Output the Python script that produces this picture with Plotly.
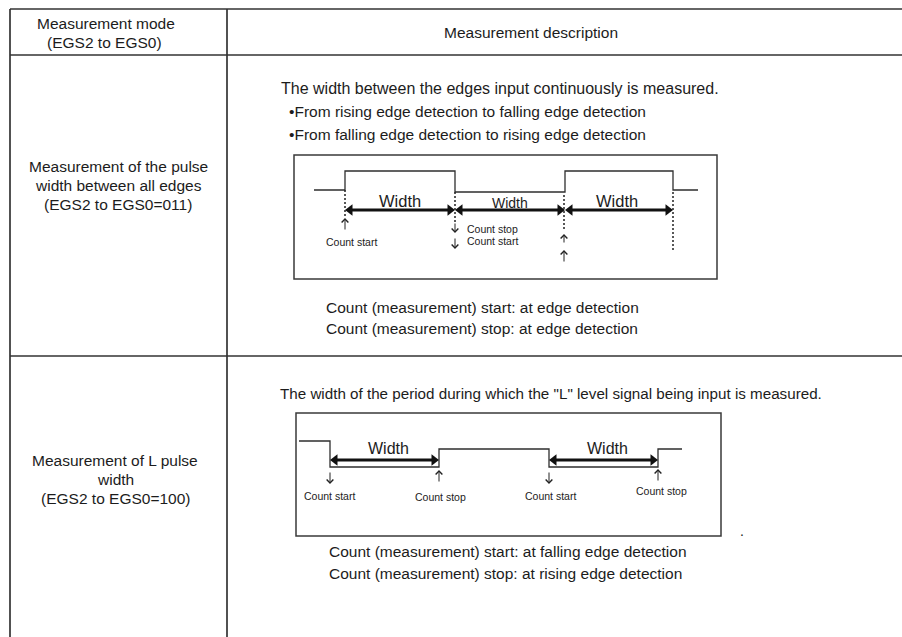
import plotly.graph_objects as go

W, H = 902, 637
FONT = "Liberation Sans, Arial, Helvetica, sans-serif"
INK = "#1c1c1c"
RULE = "#333333"

# ---------------- table structure ----------------
table_cols = [10, 227]          # vertical rules
table_rows = [9, 55, 356]       # horizontal rules
header_left = ["Measurement mode", "(EGS2 to EGS0)"]
header_right = ["Measurement description"]

mode1_lines = ["Measurement of the pulse", "width between all edges", "(EGS2 to EGS0=011)"]
mode2_lines = ["Measurement of L pulse", "width", "(EGS2 to EGS0=100)"]

desc1_lines = ["The width between the edges input continuously is measured.",
               "\u2022From rising edge detection to falling edge detection",
               "\u2022From falling edge detection to rising edge detection"]
desc1_notes = ["Count (measurement) start: at edge detection",
               "Count (measurement) stop: at edge detection"]
desc2_lines = ['The width of the period during which the "L" level signal being input is measured.']
desc2_notes = ["Count (measurement) start: at falling edge detection",
               "Count (measurement) stop: at rising edge detection"]

# ---------------- diagram 1 : all edges ----------------
box1 = [294, 155, 717, 279]
wave1_x = [314, 345, 345, 455, 455, 565, 565, 673, 673, 698]
wave1_y = [190, 190, 171, 171, 192, 192, 171, 171, 190, 190]
edges1_x = [345, 455, 564, 673]
edges1_top = [190, 192, 195, 192]
edges1_bot = [216, 222, 231, 250]
width1_start = [345, 455, 565]
width1_end = [455, 565, 673]
width1_y = 210
width1_label_x = [400, 510, 617]
width1_label_y = [201, 203, 201]
width1_label_size = [16.5, 14, 16.5]
# small count arrows: x, head y, tail y
marks1_x = [345, 455, 455, 564, 564]
marks1_head = [218, 233, 249, 234, 250]
marks1_tail = [231, 222, 237, 244, 263]
counts1 = ["Count start", "Count stop", "Count start"]
counts1_x = [351, 465, 465]
counts1_y = [242, 229, 241]
counts1_anchor = ["center", "left", "left"]

# ---------------- diagram 2 : L pulse ----------------
box2 = [296, 413, 721, 536]
wave2_x = [299, 330, 330, 439, 439, 549, 549, 658, 658, 682]
wave2_y = [441, 441, 467, 467, 449, 449, 467, 467, 449, 449]
width2_start = [330, 549]
width2_end = [439, 658]
width2_y = 460
width2_label_x = [388, 607]
width2_label_y = [448, 448]
marks2_x = [330, 439, 549, 658]
marks2_head = [484, 470, 484, 469]
marks2_tail = [471, 483, 471, 482]
counts2 = ["Count start", "Count stop", "Count start", "Count stop"]
counts2_x = [329, 440, 550, 661]
counts2_y = [496, 497, 496, 491]

fig = go.Figure()
shapes = []
ann = []


def text(x, y, s, size=15.5, anchor="left", color=INK):
    ann.append(dict(x=x, y=y, text=s, showarrow=False, xanchor=anchor, yanchor="middle",
                    font=dict(family=FONT, size=size, color=color), xref="x", yref="y"))


def arrow(x, y_head, y_tail):
    ann.append(dict(x=x, y=y_head, ax=x, ay=y_tail, xref="x", yref="y", axref="x", ayref="y",
                    text="", showarrow=True, arrowhead=4, arrowsize=1.3, arrowwidth=1,
                    arrowcolor="#222222", standoff=0, startstandoff=0))


def line(x0, y0, x1, y1, color=RULE, width=1.5, dash="solid"):
    shapes.append(dict(type="line", x0=x0, y0=y0, x1=x1, y1=y1, xref="x", yref="y",
                       line=dict(color=color, width=width, dash=dash)))


# table rules
for y in table_rows:
    line(table_cols[0], y, W, y, width=1.7)
for x in table_cols:
    line(x, table_rows[0], x, H, width=1.7)

# header
text(106, 23, header_left[0], anchor="center")
text(104, 42, header_left[1], anchor="center")
text(531, 32, header_right[0], anchor="center")

# left column
for i, s in enumerate(mode1_lines):
    text(118, 166 + 19 * i, s, anchor="center")
for i, s in enumerate(mode2_lines):
    text(115, 460 + 19 * i, s, anchor="center")

# description texts
text(279, 88, desc1_lines[0], size=16)
text(287, 111, desc1_lines[1])
text(287, 134, desc1_lines[2])
text(324, 307, desc1_notes[0])
text(324, 328, desc1_notes[1])
text(278, 393, desc2_lines[0], size=15.2)
text(327, 551, desc2_notes[0])
text(327, 573, desc2_notes[1])
text(738, 531, ".", size=14)

# boxes
for b in (box1, box2):
    shapes.append(dict(type="rect", x0=b[0], y0=b[1], x1=b[2], y1=b[3], xref="x", yref="y",
                       line=dict(color="#3a3a3a", width=1.5), fillcolor="rgba(0,0,0,0)"))

# waveforms
for wx, wy in ((wave1_x, wave1_y), (wave2_x, wave2_y)):
    fig.add_trace(go.Scatter(x=wx, y=wy, mode="lines", line=dict(color="#2e2e2e", width=1.3),
                             hoverinfo="skip", showlegend=False))

# dashed edge markers
for x, y0, y1 in zip(edges1_x, edges1_top, edges1_bot):
    line(x, y0, x, y1, color="#222222", width=1.5, dash="2px,2px")


# width arrows
def width_arrows(starts, ends, y):
    for s, e in zip(starts, ends):
        fig.add_trace(go.Scatter(x=[s + 3, e - 3], y=[y, y], mode="lines",
                                 line=dict(color="#111111", width=3), hoverinfo="skip",
                                 showlegend=False))
        fig.add_trace(go.Scatter(x=[s + 5, e - 5], y=[y, y], mode="markers",
                                 marker=dict(symbol=["triangle-left", "triangle-right"], size=10,
                                             color="#111111", line=dict(width=0)),
                                 hoverinfo="skip", showlegend=False))


width_arrows(width1_start, width1_end, width1_y)
width_arrows(width2_start, width2_end, width2_y)

for x, y, sz in zip(width1_label_x, width1_label_y, width1_label_size):
    text(x, y, "Width", size=sz, anchor="center")
for x, y in zip(width2_label_x, width2_label_y):
    text(x, y, "Width", size=16, anchor="center")

# small count arrows and labels
for x, h, t in zip(marks1_x, marks1_head, marks1_tail):
    arrow(x, h, t)
for s, x, y, a in zip(counts1, counts1_x, counts1_y, counts1_anchor):
    text(x, y, s, size=10.5, anchor=a)
for x, h, t in zip(marks2_x, marks2_head, marks2_tail):
    arrow(x, h, t)
for s, x, y in zip(counts2, counts2_x, counts2_y):
    text(x, y, s, size=10.5, anchor="center")

fig.update_layout(
    width=W, height=H, autosize=False,
    margin=dict(l=0, r=0, t=0, b=0, pad=0),
    paper_bgcolor="white", plot_bgcolor="white",
    xaxis=dict(range=[0, W], visible=False, fixedrange=True),
    yaxis=dict(range=[H, 0], visible=False, fixedrange=True),
    shapes=shapes, annotations=ann, showlegend=False,
)

fig.write_html("out.html", config={"displayModeBar": False},
               post_script="document.body.style.margin='0';document.body.style.overflow='hidden';")
